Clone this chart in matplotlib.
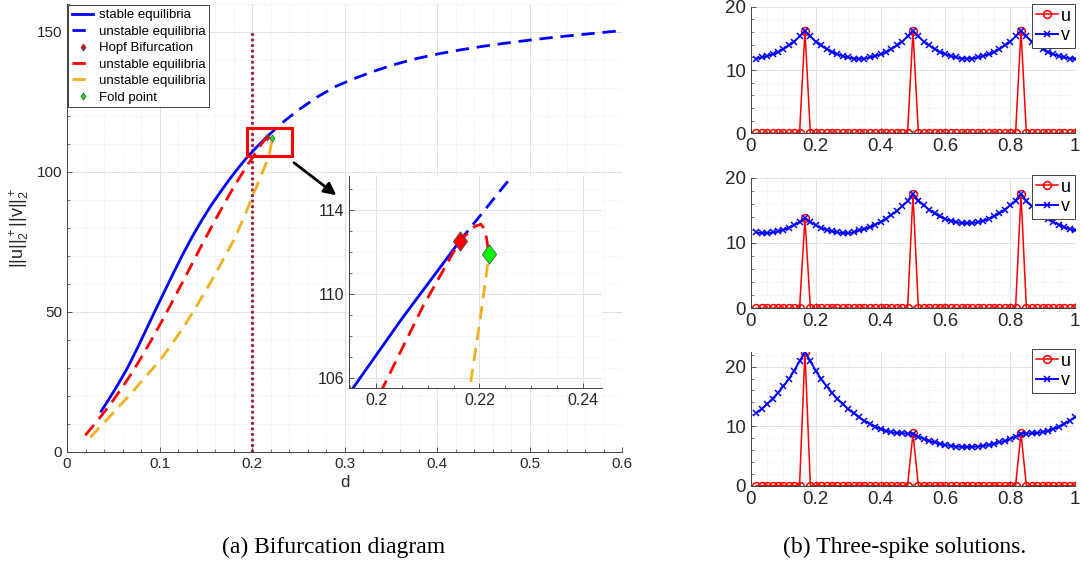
import numpy as np
import matplotlib
matplotlib.use("Agg")
import matplotlib.pyplot as plt
from matplotlib.patches import Rectangle
from matplotlib.ticker import MultipleLocator

plt.rcParams['font.family'] = ['Liberation Sans', 'DejaVu Sans']
plt.rcParams['mathtext.default'] = 'regular'

# %% branch data: d vs ||u||_2 + ||v||_2
stable_d = [0.037, 0.045, 0.055, 0.065, 0.075, 0.085, 0.095, 0.105, 0.115, 0.125,
            0.135, 0.145, 0.155, 0.165, 0.175, 0.185, 0.195, 0.205, 0.2162]
stable_n = [14.5, 18.6, 24.0, 29.7, 36.3, 43.2, 50.2, 57.0, 63.8, 70.4,
            76.6, 82.3, 87.6, 92.4, 97.0, 101.3, 105.3, 108.8, 112.5]

unstable_blue_d = [0.2162, 0.225, 0.235, 0.25, 0.27, 0.29, 0.31, 0.33, 0.35, 0.375,
                   0.40, 0.425, 0.45, 0.475, 0.50, 0.525, 0.55, 0.575, 0.60]
unstable_blue_n = [112.5, 115.2, 118.1, 122.0, 126.6, 130.4, 133.2, 135.7, 137.9, 140.2,
                   142.0, 143.5, 144.8, 145.95, 147.0, 147.95, 148.8, 149.6, 150.4]

unstable_red_d = [0.0198, 0.03, 0.04, 0.05, 0.06, 0.07, 0.08, 0.09, 0.1036, 0.115,
                  0.125, 0.135, 0.1433, 0.155, 0.165, 0.1758, 0.185, 0.192, 0.2009, 0.2091,
                  0.2162, 0.2191, 0.2203, 0.2209, 0.2214, 0.2218]
unstable_red_n = [5.9, 9.9, 14.0, 18.4, 23.1, 28.1, 33.5, 39.2, 47.3, 54.3,
                  60.6, 67.0, 72.3, 79.6, 85.6, 92.0, 97.1, 100.8, 105.3, 109.4,
                  112.5, 113.2, 113.3, 113.1, 112.6, 111.9]

unstable_orange_d = [0.0249, 0.035, 0.0458, 0.055, 0.065, 0.075, 0.085, 0.10, 0.11, 0.12,
                     0.13, 0.1433, 0.155, 0.165, 0.1794, 0.19, 0.201, 0.21, 0.2173, 0.2182,
                     0.2198, 0.2210, 0.2216, 0.2218]
unstable_orange_n = [5.1, 8.6, 12.4, 15.7, 19.3, 23.0, 26.8, 32.5, 36.9, 41.6,
                     46.6, 53.8, 60.4, 66.3, 75.1, 82.7, 91.6, 98.8, 104.6, 105.6,
                     108.2, 110.3, 111.4, 111.9]

hopf_d, hopf_n = 0.2162, 112.5
fold_d, fold_n = 0.2218, 111.9

d_line = 0.2

# zoom window
zoom_x = (0.1948, 0.2437)
zoom_y = (105.5, 115.6)

# %% three-spike profiles on the grid x = i/60
x_grid = np.arange(1, 61) / 60
spike_idx = [9, 29, 49]

u1_spikes = [16.2, 16.2, 16.2]
v1 = [11.8, 12.0, 12.2, 12.5, 12.8, 13.3, 13.9, 14.5, 15.3, 16.2,
      15.3, 14.5, 13.9, 13.3, 12.8, 12.5, 12.2, 12.0, 11.8, 11.8,
      11.8, 12.0, 12.2, 12.5, 12.8, 13.3, 13.9, 14.5, 15.3, 16.2,
      15.3, 14.5, 13.9, 13.3, 12.8, 12.5, 12.2, 12.0, 11.8, 11.8,
      11.8, 12.0, 12.2, 12.5, 12.8, 13.3, 13.9, 14.5, 15.3, 16.2,
      15.3, 14.5, 13.9, 13.3, 12.8, 12.5, 12.2, 12.0, 11.8, 11.8]

u2_spikes = [13.8, 17.5, 17.5]
v2 = [11.6, 11.5, 11.5, 11.6, 11.75, 12.0, 12.3, 12.7, 13.2, 13.8,
      13.2, 12.7, 12.3, 12.0, 11.75, 11.6, 11.5, 11.5, 11.6, 11.9,
      12.1, 12.4, 12.8, 13.2, 13.7, 14.3, 14.9, 15.6, 16.4, 17.5,
      16.48, 15.73, 15.08, 14.51, 14.04, 13.66, 13.37, 13.17, 13.04, 13.0,
      13.04, 13.17, 13.37, 13.66, 14.04, 14.51, 15.08, 15.73, 16.48, 17.5,
      16.4, 15.6, 14.9, 14.3, 13.7, 13.2, 12.8, 12.4, 12.1, 11.9]

u3_spikes = [22.5, 8.8, 8.8]
v3 = [12.2, 12.9, 13.7, 14.6, 15.6, 16.7, 17.9, 19.3, 20.9, 22.5,
      20.9, 19.3, 17.9, 16.7, 15.6, 14.6, 13.7, 12.9, 12.2, 11.5,
      10.9, 10.4, 9.9, 9.5, 9.2, 9.0, 8.85, 8.8, 8.75, 8.75,
      8.24, 7.86, 7.54, 7.26, 7.02, 6.83, 6.69, 6.58, 6.52, 6.5,
      6.52, 6.58, 6.69, 6.83, 7.02, 7.26, 7.54, 7.86, 8.24, 8.75,
      8.75, 8.8, 8.85, 9.0, 9.2, 9.5, 9.9, 10.4, 10.9, 11.5]

BLUE = '#0000ff'
RED = '#ff0000'
ORANGE = '#edb120'
GREEN = '#00ff00'
DARKRED = '#a2142f'
AXC = '#262626'

# diamond a bit taller than wide
diamond = [(0, 1), (0.73, 0), (0, -1), (-0.73, 0), (0, 1)]
dash = (0, (4.8, 2.8))


def style_axes(ax, fs, xminor, yminor):
    for s in ['top', 'right']:
        ax.spines[s].set_visible(False)
    for s in ['left', 'bottom']:
        ax.spines[s].set_color('#404040')
        ax.spines[s].set_linewidth(0.7)
    ax.xaxis.set_minor_locator(MultipleLocator(xminor))
    ax.yaxis.set_minor_locator(MultipleLocator(yminor))
    ax.tick_params(which='both', direction='in', colors='#404040',
                   labelcolor=AXC, labelsize=fs)
    ax.tick_params(which='major', length=3.5, width=0.6)
    ax.tick_params(which='minor', length=2, width=0.5)
    ax.grid(True, which='major', color='#e2e2e2', lw=0.7)
    ax.grid(True, which='minor', color='#e8e8e8', lw=0.6, ls=':')
    ax.set_axisbelow(True)


def draw_branches(ax, lw, msize):
    ax.plot(stable_d, stable_n, color=BLUE, lw=lw, label='stable equilibria')
    ax.plot(unstable_blue_d, unstable_blue_n, color=BLUE, lw=lw, ls=dash,
            label='unstable equilibria')
    ax.plot([hopf_d], [hopf_n], ls='none', marker=diamond, ms=msize, mfc=RED,
            mec='#505050', mew=0.6, label='Hopf Bifurcation', zorder=5)
    ax.plot(unstable_red_d, unstable_red_n, color=RED, lw=lw, ls=dash,
            label='unstable equilibria')
    ax.plot(unstable_orange_d, unstable_orange_n, color=ORANGE, lw=lw, ls=dash,
            label='unstable equilibria')
    ax.plot([fold_d], [fold_n], ls='none', marker=diamond, ms=msize, mfc=GREEN,
            mec='#505050', mew=0.6, label='Fold point', zorder=5)


fig = plt.figure(figsize=(10.83, 5.63), dpi=100)

# %% bifurcation diagram
ax = fig.add_axes([0.0619, 0.1977, 0.5125, 0.7957])
draw_branches(ax, 2.0, 5)
ax.plot([d_line, d_line], [0, 150], color=DARKRED, lw=2, ls=(0, (1, 1)), zorder=1)
ax.set_xlim(0, 0.6)
ax.set_ylim(0, 160)
ax.set_xticks([0, 0.1, 0.2, 0.3, 0.4, 0.5, 0.6])
ax.set_xticklabels(['0', '0.1', '0.2', '0.3', '0.4', '0.5', '0.6'])
ax.set_yticks([0, 50, 100, 150])
style_axes(ax, 11, 0.02, 10)
ax.set_xlabel('d', fontsize=12, color=AXC, labelpad=3)
ax.set_ylabel(r'$||u||_2^+||v||_2^+$', fontsize=13, color=AXC, labelpad=4)

leg = ax.legend(loc='upper left', bbox_to_anchor=(0.0, 1.0), borderaxespad=0.1,
                fontsize=9.5, labelspacing=0.32, handlelength=1.6, handletextpad=0.4,
                borderpad=0.3, fancybox=False, framealpha=1, edgecolor='#404040')
leg.get_frame().set_linewidth(0.7)

ax.add_patch(Rectangle((zoom_x[0], zoom_y[0]), zoom_x[1] - zoom_x[0], zoom_y[1] - zoom_y[0],
                       fill=False, ec=RED, lw=2.2, zorder=6))
ax.annotate('', xy=(0.2935, 91.0), xytext=(0.2430, 103.8),
            arrowprops=dict(arrowstyle='-|>', color='k', lw=2, mutation_scale=18))

# inset zoom
axin = fig.add_axes([0.3223, 0.3108, 0.2336, 0.3766])
draw_branches(axin, 2.0, 14)
axin.set_xlim(*zoom_x)
axin.set_ylim(*zoom_y)
axin.set_xticks([0.2, 0.22, 0.24])
axin.set_xticklabels(['0.2', '0.22', '0.24'])
axin.set_yticks([106, 110, 114])
style_axes(axin, 11.5, 0.005, 1)

# %% three-spike solutions
panels = [
    ([0.6934, 0.7632, 0.2992, 0.2249], u1_spikes, v1, 20),
    ([0.6934, 0.4524, 0.2992, 0.2323], u2_spikes, v2, 20),
    ([0.6934, 0.1373, 0.2992, 0.2380], u3_spikes, v3, 22.5),
]
for rect, spikes, v, ytop in panels:
    a = fig.add_axes(rect)
    u = np.zeros(len(x_grid))
    u[spike_idx] = spikes
    a.plot(x_grid, u, color=RED, lw=1.1, marker='o', ms=5.6, mfc='none', mew=1.1, label='u')
    a.plot(x_grid, v, color=BLUE, lw=1.4, marker='x', ms=5.0, mew=1.1, label='v')
    a.set_xlim(0, 1)
    a.set_ylim(0, ytop)
    a.set_xticks([0, 0.2, 0.4, 0.6, 0.8, 1])
    a.set_xticklabels(['0', '0.2', '0.4', '0.6', '0.8', '1'])
    a.set_yticks([0, 10, 20])
    style_axes(a, 13.5, 0.05, 2)
    lg = a.legend(loc='upper right', bbox_to_anchor=(1.0, 1.02), borderaxespad=0,
                  fontsize=13, handlelength=1.2, handletextpad=0.2, labelspacing=0.15,
                  borderpad=0.2, fancybox=False, framealpha=1, edgecolor='#404040')
    lg.get_frame().set_linewidth(0.7)

fig.text(0.308, 0.027, '(a) Bifurcation diagram', ha='center', va='center',
         family=['Liberation Serif', 'DejaVu Serif'], fontsize=17)
fig.text(0.835, 0.027, '(b) Three-spike solutions.', ha='center', va='center',
         family=['Liberation Serif', 'DejaVu Serif'], fontsize=17)

fig.savefig('out.png', dpi=100)
